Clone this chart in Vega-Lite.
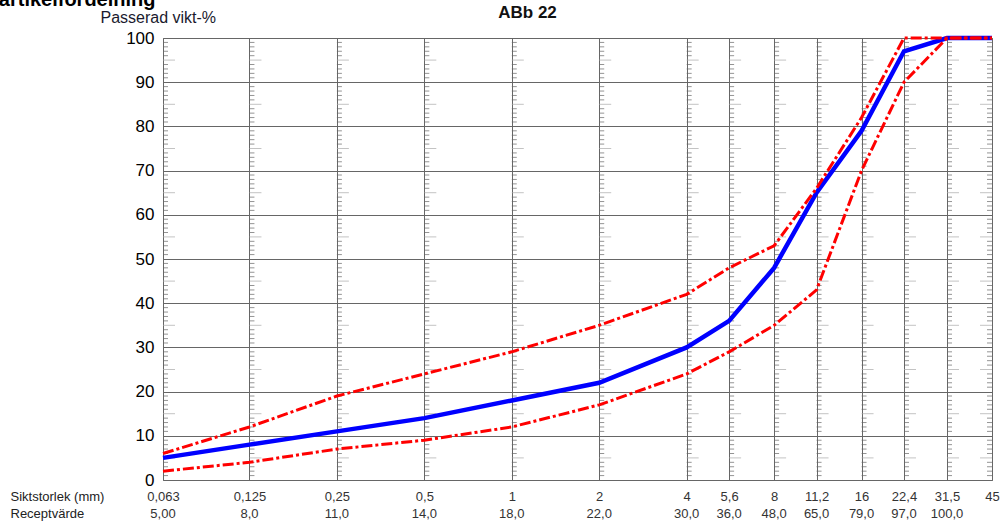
{
  "$schema": "https://vega.github.io/schema/vega-lite/v6.json",
  "width": 829,
  "height": 442,
  "autosize": {"type": "none"},
  "padding": {"left": 163, "top": 38, "right": 14, "bottom": 44},
  "background": "white",
  "config": {
    "font": "Liberation Sans",
    "view": {"stroke": "#666666", "strokeWidth": 1}
  },
  "datasets": {
    "grading": [
      {"mm": 0.063, "recept": 5, "lo": 2, "hi": 6},
      {"mm": 0.125, "recept": 8, "lo": 4, "hi": 12},
      {"mm": 0.25, "recept": 11, "lo": 7, "hi": 19},
      {"mm": 0.5, "recept": 14, "lo": 9, "hi": 24},
      {"mm": 1, "recept": 18, "lo": 12, "hi": 29},
      {"mm": 2, "recept": 22, "lo": 17, "hi": 35},
      {"mm": 4, "recept": 30, "lo": 24, "hi": 42},
      {"mm": 5.6, "recept": 36, "lo": 29, "hi": 48},
      {"mm": 8, "recept": 48, "lo": 35, "hi": 53},
      {"mm": 11.2, "recept": 65, "lo": 43, "hi": 66},
      {"mm": 16, "recept": 79, "lo": 70, "hi": 82},
      {"mm": 22.4, "recept": 97, "lo": 90, "hi": 100},
      {"mm": 31.5, "recept": 100, "lo": 100, "hi": 100},
      {"mm": 45, "recept": 100, "lo": 100, "hi": 100}
    ],
    "scaleMarks": [
      {
        "mm": [0.063, 0.125, 0.25, 0.5, 1, 2, 4, 5.6, 8, 11.2, 16, 22.4, 31.5, 45],
        "p": [1, 2, 3, 4, 5, 6, 7, 8, 9, 11, 12, 13, 14, 15, 16, 17, 18, 19, 21, 22, 23, 24, 25, 26, 27, 28, 29, 31, 32, 33, 34, 35, 36, 37, 38, 39, 41, 42, 43, 44, 45, 46, 47, 48, 49, 51, 52, 53, 54, 55, 56, 57, 58, 59, 61, 62, 63, 64, 65, 66, 67, 68, 69, 71, 72, 73, 74, 75, 76, 77, 78, 79, 81, 82, 83, 84, 85, 86, 87, 88, 89, 91, 92, 93, 94, 95, 96, 97, 98, 99]
      }
    ]
  },
  "resolve": {"axis": {"x": "independent", "y": "independent"}},
  "layer": [
    {
      "data": {"name": "scaleMarks"},
      "transform": [
        {"flatten": ["mm"]},
        {"flatten": ["p"]},
        {"filter": "datum.p % 5 !== 0"}
      ],
      "mark": {"type": "tick", "orient": "horizontal", "size": 5, "thickness": 1, "color": "#666666", "xOffset": {"expr": "datum.mm >= 45 ? -2.5 : 2.5"}},
      "encoding": {
        "x": {
          "field": "mm",
          "type": "quantitative",
          "axis": {
            "orient": "top",
            "title": "Partikelfördelning",
            "titleFontSize": 20,
            "titleFontWeight": "bold",
            "titleColor": "#000000",
            "titleAlign": "right",
            "titleBaseline": "alphabetic",
            "titleAngle": 0,
            "titleX": -8,
            "titleY": -33,
            "labels": false,
            "ticks": false,
            "domain": false,
            "grid": false
          }
        },
        "y": {"field": "p", "type": "quantitative", "axis": null}
      }
    },
    {
      "data": {"name": "scaleMarks"},
      "transform": [
        {"flatten": ["mm"]},
        {"flatten": ["p"]},
        {"filter": "datum.p % 5 === 0"}
      ],
      "mark": {"type": "tick", "orient": "horizontal", "size": 12, "thickness": 1, "color": "#aaaaaa", "xOffset": {"expr": "datum.mm >= 45 ? -6 : 6"}},
      "encoding": {
        "x": {"field": "mm", "type": "quantitative", "axis": null},
        "y": {"field": "p", "type": "quantitative", "axis": null}
      }
    },
    {
      "data": {"name": "grading"},
      "mark": {"type": "line", "color": "#0000ff", "strokeWidth": 4.5, "strokeJoin": "miter"},
      "encoding": {
        "x": {
          "field": "mm",
          "type": "quantitative",
          "scale": {"type": "log", "domain": [0.063, 45], "nice": false},
          "axis": {
            "orient": "bottom",
            "values": [0.063, 0.125, 0.25, 0.5, 1, 2, 4, 5.6, 8, 11.2, 16, 22.4, 31.5, 45],
            "labelExpr": "replace(format(datum.value, '~g'), '.', ',')",
            "labelFontSize": 13,
            "labelColor": "#333333",
            "labelPadding": 10,
            "labelBaseline": "top",
            "labelFlush": false,
            "labelOverlap": false,
            "domain": false,
            "ticks": false,
            "tickSize": 0,
            "grid": true,
            "gridColor": "#666666",
            "gridWidth": 1,
            "title": ["Siktstorlek (mm)", "Receptvärde"],
            "titleFontSize": 13,
            "titleFontWeight": "normal",
            "titleColor": "#222222",
            "titleAlign": "left",
            "titleBaseline": "top",
            "titleLineHeight": 17,
            "titleX": -153,
            "titleY": 10
          }
        },
        "y": {
          "field": "recept",
          "type": "quantitative",
          "scale": {"domain": [0, 100], "nice": false},
          "axis": {
            "orient": "left",
            "values": [0, 10, 20, 30, 40, 50, 60, 70, 80, 90, 100],
            "labelFontSize": 17,
            "labelColor": "#000000",
            "labelPadding": 9,
            "domain": false,
            "ticks": false,
            "tickSize": 0,
            "grid": true,
            "gridColor": "#666666",
            "gridWidth": 1,
            "title": "Passerad vikt-%",
            "titleFontSize": 16,
            "titleFontWeight": "normal",
            "titleColor": "#1a1a2e",
            "titleAngle": 0,
            "titleAlign": "left",
            "titleBaseline": "middle",
            "titleX": -63,
            "titleY": -21
          }
        }
      }
    },
    {
      "data": {"name": "grading"},
      "transform": [{"fold": ["lo", "hi"], "as": ["limit", "value"]}],
      "mark": {"type": "line", "color": "#ff0000", "strokeWidth": 3, "strokeDash": [11, 3, 3, 3]},
      "encoding": {
        "x": {"field": "mm", "type": "quantitative", "axis": null},
        "y": {
          "field": "value",
          "type": "quantitative",
          "axis": {
            "orient": "right",
            "title": "ABb 22",
            "titleFontSize": 17,
            "titleFontWeight": "bold",
            "titleColor": "#111111",
            "titleAngle": 0,
            "titleAlign": "center",
            "titleBaseline": "alphabetic",
            "titleX": -465,
            "titleY": -21,
            "labels": false,
            "ticks": false,
            "domain": false,
            "grid": false
          }
        },
        "detail": {"field": "limit"}
      }
    },
    {
      "data": {"name": "grading"},
      "transform": [
        {"filter": "datum.mm < 45"},
        {"calculate": "replace(format(datum.recept, datum.mm < 0.1 ? '.2f' : '.1f'), '.', ',')", "as": "receptLabel"}
      ],
      "mark": {"type": "text", "fontSize": 13, "color": "#333333", "baseline": "middle", "align": "center", "dy": 34},
      "encoding": {
        "x": {"field": "mm", "type": "quantitative", "axis": null},
        "y": {"datum": 0, "type": "quantitative", "axis": null},
        "text": {"field": "receptLabel"}
      }
    }
  ]
}
